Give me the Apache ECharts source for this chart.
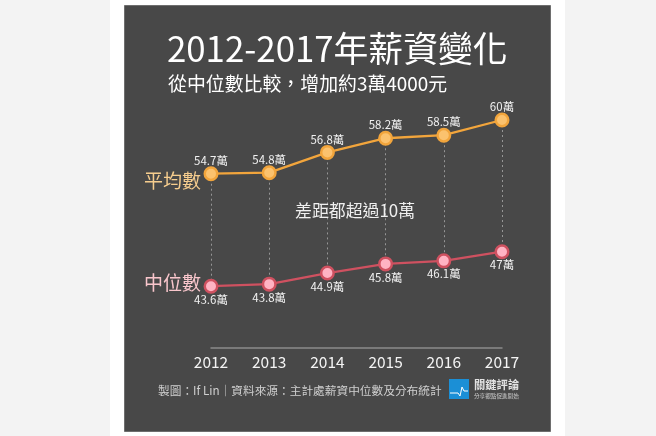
<!DOCTYPE html>
<html>
  <head>
    <meta charset="UTF-8" />
    <title>2012-2017年薪資變化</title>
    <style>
      html, body { margin: 0; padding: 0; background: #f3f3f3; }
      #chart { width: 656px; height: 436px; }
    </style>
    <script src="https://cdn.jsdelivr.net/npm/echarts@6/dist/echarts.min.js"></script>
  </head>
  <body>
    <div id="chart"></div>
    <script>
      var years = ["2012", "2013", "2014", "2015", "2016", "2017"];
      var meanValues = [54.7, 54.8, 56.8, 58.2, 58.5, 60];
      var medianValues = [43.6, 43.8, 44.9, 45.8, 46.1, 47];

      var FONT = '"Noto Sans CJK TC", "Noto Sans", sans-serif';
      var myChart = echarts.init(document.getElementById("chart"));

      function text(x, y, str, size, color, extra) {
        var style = { x: x, y: y, text: str, fontSize: size, fill: color, fontFamily: FONT, textVerticalAlign: "middle" };
        for (var k in extra) style[k] = extra[k];
        return { type: "text", z: 5, style: style };
      }

      // dotted guides join each year's two points
      var guides = years.map(function (y, i) {
        return [{ xAxis: y, yAxis: meanValues[i] }, { xAxis: y, yAxis: medianValues[i] }];
      });

      myChart.setOption({
        animation: false,
        grid: { left: 211, right: 154, top: 120, height: 228 },
        xAxis: {
          type: "category",
          data: years,
          boundaryGap: false,
          axisLine: { lineStyle: { color: "#8a8a8a", width: 1.5 } },
          axisTick: { show: false },
          axisLabel: { color: "#f4f4f4", fontSize: 15.5, fontFamily: FONT, margin: 6 },
        },
        yAxis: { type: "value", min: 37.5, max: 60, show: false },
        series: [
          {
            name: "guides",
            type: "line",
            data: [],
            z: 1,
            markLine: {
              silent: true,
              symbol: "none",
              z: 1,
              label: { show: false },
              lineStyle: { color: "#969696", type: [2, 3], width: 1 },
              data: guides,
            },
          },
          {
            name: "平均數",
            type: "line",
            data: meanValues,
            symbol: "circle",
            symbolSize: 12.5,
            lineStyle: { color: "#f2a53c", width: 2.3 },
            itemStyle: { color: "#fbc26e", borderColor: "#f2a53c", borderWidth: 2.5 },
            label: { show: true, position: "top", distance: 0, formatter: "{c}萬", color: "#f0f0f0", fontSize: 11.5, fontFamily: FONT },
            z: 3,
          },
          {
            name: "中位數",
            type: "line",
            data: medianValues,
            symbol: "circle",
            symbolSize: 12.5,
            lineStyle: { color: "#cf5160", width: 2.3 },
            itemStyle: { color: "#ffb3c3", borderColor: "#cf5160", borderWidth: 2.5 },
            label: { show: true, position: "bottom", distance: 0, formatter: "{c}萬", color: "#f0f0f0", fontSize: 11.5, fontFamily: FONT },
            z: 3,
          },
        ],
        graphic: [
          { type: "rect", z: -2, shape: { x: 110, y: 0, width: 455, height: 436 }, style: { fill: "#ffffff" } },
          { type: "rect", z: -1, shape: { x: 124.5, y: 5.5, width: 426, height: 426 }, style: { fill: "#484848", stroke: "#6e6e6e", lineWidth: 1 } },
          text(167, 49, "2012-2017年薪資變化", 34.8, "#ffffff"),
          text(168, 84, "從中位數比較，增加約3萬4000元", 18.9, "#ffffff"),
          text(144, 181, "平均數", 19, "#f6cd8e"),
          text(144, 283, "中位數", 19, "#f9c6cc"),
          text(295, 211, "差距都超過10萬", 16.9, "#efefef"),
          text(158, 391, "製圖：If Lin｜資料來源：主計處薪資中位數及分布統計", 11.7, "#cfcfcf"),
          { type: "rect", z: 5, shape: { x: 449, y: 379, width: 20, height: 20 }, style: { fill: "#1b8fd6" } },
          { type: "polyline", z: 6, shape: { points: [[450, 393], [458, 393], [460, 396], [462, 387], [464, 391], [468, 391]] }, style: { stroke: "#ffffff", fill: "none", lineWidth: 1 } },
          text(474, 385, "關鍵評論", 11.3, "#e2e2e2", { fontWeight: "bold" }),
          text(474, 396, "分享觀點促進開始", 5.6, "#cfcfcf"),
        ],
      });
    </script>
  </body>
</html>
